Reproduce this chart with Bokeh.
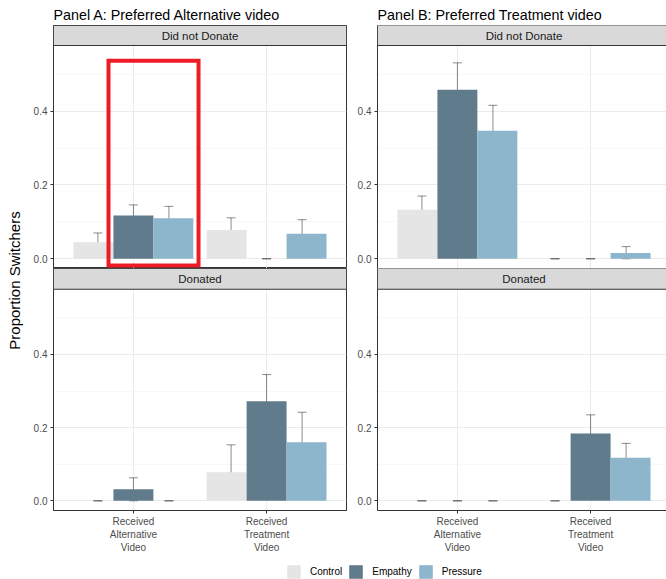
from math import pi

from bokeh.embed import file_html
from bokeh.layouts import column, row
from bokeh.models import (BoxAnnotation, ColumnDataSource, FixedTicker, Label,
                          Legend, LegendItem, PrintfTickFormatter, Range1d,
                          TeeHead, Whisker)
from bokeh.plotting import figure
from bokeh.resources import INLINE
from bokeh.transform import dodge

FONT = "Liberation Sans"

# ---- data -------------------------------------------------------------
conditions = ["Control", "Empathy", "Pressure"]
condition_colors = ["#E5E5E5", "#607B8B", "#8DB6CD"]
video_pos = [1, 2]
video_labels = ["Received\nAlternative\nVideo", "Received\nTreatment\nVideo"]
panel_titles = ["Panel A: Preferred Alternative video",
                "Panel B: Preferred Treatment video"]
facet_labels = ["Did not Donate", "Donated"]
y_ticks = [0.0, 0.2, 0.4]
y_minor_ticks = [0.1, 0.3, 0.5]

# order: Alt/Control, Alt/Empathy, Alt/Pressure, Trt/Control, Trt/Empathy, Trt/Pressure
pa_nodonate_mean = [0.045, 0.117, 0.110, 0.078, 0.000, 0.068]
pa_nodonate_low = [0.022, 0.083, 0.079, 0.043, 0.000, 0.030]
pa_nodonate_high = [0.070, 0.146, 0.142, 0.111, 0.000, 0.106]

pa_donate_mean = [0.000, 0.032, 0.000, 0.078, 0.272, 0.160]
pa_donate_low = [0.000, 0.000, 0.000, 0.004, 0.198, 0.073]
pa_donate_high = [0.000, 0.063, 0.000, 0.153, 0.345, 0.242]

pb_nodonate_mean = [0.133, 0.458, 0.347, 0.000, 0.000, 0.016]
pb_nodonate_low = [0.089, 0.382, 0.279, 0.000, 0.000, 0.000]
pb_nodonate_high = [0.170, 0.531, 0.416, 0.000, 0.000, 0.033]

pb_donate_mean = [0.000, 0.000, 0.000, 0.000, 0.184, 0.118]
pb_donate_low = [0.000, 0.000, 0.000, 0.000, 0.130, 0.079]
pb_donate_high = [0.000, 0.000, 0.000, 0.000, 0.235, 0.157]

# ---- layout constants -------------------------------------------------
Y_LO, Y_HI = -0.0263, 0.578
PX_PER_UNIT = 293 / 2.2
BAR_W = 0.3
BAR_OFFSETS = [-0.3, 0.0, 0.3]
ERR_OFFSETS = [-0.8 / 3, 0.0, 0.8 / 3]
STRIP_FILL = "#D9D9D9"
DARK = "#333333"
GRID = "#EBEBEB"


def facet(panel, row_idx, mean, low, high):
    top = row_idx == 0
    is_a = panel == 0
    width = 321 if is_a else 319
    left = 27 if is_a else 30
    right = 1 if is_a else 0
    frame_w = width - left - right
    x_end = 0.4 + frame_w / PX_PER_UNIT
    strip_px = 20 if top else 21
    plot_px = 223 if top else 224
    height = 268 if top else 287
    y_end = Y_HI + strip_px * (Y_HI - Y_LO) / plot_px

    p = figure(width=width, height=height,
               x_range=Range1d(0.4, x_end), y_range=Range1d(Y_LO, y_end),
               output_backend="svg", toolbar_location=None,
               min_border_left=left, min_border_right=right,
               min_border_top=25 if top else 0,
               min_border_bottom=0 if top else 42,
               title=panel_titles[panel] if top else None)
    p.background_fill_color = "white"
    p.border_fill_color = "white"
    if is_a:
        p.outline_line_color = DARK
        p.outline_line_width = 1
    else:
        p.outline_line_color = None

    if top:
        p.title.text_font = FONT
        p.title.text_font_size = "14.3px"
        p.title.text_font_style = "normal"
        p.title.text_color = "black"
        p.title.align = "left"
        p.title.standoff = 5
        p.title.offset = 0

    # axes
    p.yaxis.ticker = FixedTicker(ticks=y_ticks, minor_ticks=y_minor_ticks)
    p.yaxis.formatter = PrintfTickFormatter(format="%.1f")
    p.xaxis.ticker = FixedTicker(ticks=video_pos)
    p.xaxis.major_label_overrides = {v: lab for v, lab in zip(video_pos, video_labels)}
    for ax in (p.xaxis[0], p.yaxis[0]):
        ax.axis_line_color = DARK
        ax.axis_line_width = 1
        ax.major_tick_line_color = DARK
        ax.major_tick_out = 3
        ax.major_tick_in = 0
        ax.minor_tick_line_color = None
        ax.major_label_text_font = FONT
        ax.major_label_text_font_size = "10px"
        ax.major_label_text_color = "#4D4D4D"
        ax.major_label_standoff = 2
    p.xaxis.visible = not top

    p.xgrid.grid_line_color = GRID
    p.ygrid.grid_line_color = GRID
    p.ygrid.minor_grid_line_color = "#F3F3F3"
    p.ygrid.minor_grid_line_width = 0.6

    # bars and error bars, one renderer per condition
    for i, cond in enumerate(conditions):
        src = ColumnDataSource(dict(
            x=video_pos,
            mean=mean[i::3],
            low=low[i::3],
            high=high[i::3],
        ))
        p.vbar(x=dodge("x", BAR_OFFSETS[i]), top="mean", bottom=0, width=BAR_W,
               source=src, fill_color=condition_colors[i], line_color=None)
        whisk = Whisker(source=src, base=dodge("x", ERR_OFFSETS[i]),
                        upper="high", lower="low",
                        line_color="black", line_alpha=0.45, line_width=1,
                        upper_head=TeeHead(size=9, line_color="black",
                                           line_alpha=0.45, line_width=1),
                        lower_head=TeeHead(size=9, line_color="black",
                                           line_alpha=0.45, line_width=1))
        p.add_layout(whisk)

    # facet strip
    strip = BoxAnnotation(bottom=Y_HI, left=None if is_a else 0.4,
                          right=None if is_a else 9.0,
                          fill_color=STRIP_FILL, fill_alpha=1.0,
                          line_color=DARK, line_width=1, line_alpha=1.0)
    p.add_layout(strip)
    p.add_layout(Label(x=1.5, y=(Y_HI + y_end) / 2, text=facet_labels[row_idx],
                       text_align="center", text_baseline="middle",
                       text_font=FONT, text_font_size="11.5px",
                       text_color="#1A1A1A"))
    return p


a_top = facet(0, 0, pa_nodonate_mean, pa_nodonate_low, pa_nodonate_high)
a_bot = facet(0, 1, pa_donate_mean, pa_donate_low, pa_donate_high)
b_top = facet(1, 0, pb_nodonate_mean, pb_nodonate_low, pb_nodonate_high)
b_bot = facet(1, 1, pb_donate_mean, pb_donate_low, pb_donate_high)

# highlight box around the alternative-video empathy/pressure bars
a_top.add_layout(BoxAnnotation(left=0.813, right=1.489, bottom=-0.018, top=0.537,
                               fill_alpha=0, line_color="#ED1C24",
                               line_width=4, line_alpha=1.0, line_join="miter"))

# shared y-axis title
ylab = figure(width=26, height=555, x_range=Range1d(0, 26), y_range=Range1d(0, 555),
              output_backend="svg", toolbar_location=None,
              min_border=0)
ylab.axis.visible = False
ylab.grid.visible = False
ylab.outline_line_color = None
ylab.add_layout(Label(x=14, y=275, text="Proportion Switchers", angle=pi / 2,
                      text_align="center", text_baseline="middle",
                      text_font=FONT, text_font_size="15px", text_color="black"))

# legend strip: key renderers sit below the visible range, only their
# legend swatches are shown
leg = figure(width=666, height=24, x_range=Range1d(0, 1), y_range=Range1d(0, 1),
             output_backend="svg", toolbar_location=None, min_border=0)
leg.axis.visible = False
leg.grid.visible = False
leg.outline_line_color = None
items = []
for cond, col in zip(conditions, condition_colors):
    r = leg.vbar(x=[0.5], top=[-5], bottom=-6, width=0.1,
                 fill_color=col, line_color=None)
    items.append(LegendItem(label=cond, renderers=[r]))
legend = Legend(items=items, orientation="horizontal", location=(285, -1),
                glyph_width=17, glyph_height=17, label_standoff=8, spacing=5,
                padding=0, margin=0, border_line_alpha=0, background_fill_alpha=0,
                label_text_font=FONT, label_text_font_size="10px",
                label_text_color="black", label_height=17)
leg.add_layout(legend, "center")

layout = column(row(ylab, column(a_top, a_bot), column(b_top, b_bot)), leg)

with open("out.html", "w") as f:
    f.write(file_html(layout, INLINE))
